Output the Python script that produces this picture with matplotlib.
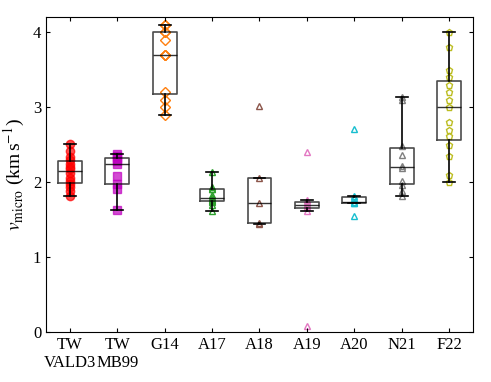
import numpy as np
import matplotlib.pyplot as plt

plt.rcParams['font.family'] = 'Liberation Serif'
plt.rcParams['mathtext.fontset'] = 'stix'

labels = ['TW\nVALD3', 'TW\nMB99', 'G14', 'A17', 'A18', 'A19', 'A20', 'N21', 'F22']

tw_vald3 = [1.82, 1.88, 1.93, 1.98, 2.02, 2.06, 2.12, 2.18, 2.20, 2.24, 2.29, 2.33, 2.42, 2.51]
tw_mb99 = [1.63, 1.91, 1.98, 2.08, 2.24, 2.28, 2.32, 2.35, 2.38]
g14 = [2.9, 3.0, 3.1, 3.2, 3.7, 3.7, 3.7, 3.9, 4.0, 4.0, 4.1, 4.1]
a17 = [1.62, 1.70, 1.73, 1.75, 1.76, 1.78, 1.80, 1.83, 1.91, 1.91, 1.93, 2.14]
a18 = [1.44, 1.46, 1.72, 2.05, 3.02]
a19 = [0.08, 1.62, 1.67, 1.68, 1.71, 1.73, 1.76, 2.40]
a20 = [1.55, 1.72, 1.72, 1.73, 1.79, 1.81, 2.71]
n21 = [1.82, 1.88, 1.96, 2.01, 2.19, 2.21, 2.36, 2.48, 3.10, 3.13]
f22 = [4.0, 3.8, 3.5, 3.4, 3.3, 3.2, 3.1, 3.0, 2.8, 2.7, 2.62, 2.5, 2.35, 2.1, 2.0]

data = [tw_vald3, tw_mb99, g14, a17, a18, a19, a20, n21, f22]

# marker, colour, filled
styles = [('o', 'red', True), ('s', 'm', True), ('D', 'tab:orange', False),
          ('^', 'tab:green', False), ('^', 'tab:brown', False), ('^', 'tab:pink', False),
          ('^', 'tab:cyan', False), ('^', 'tab:gray', False), ('p', 'tab:olive', False)]

fig, ax = plt.subplots(figsize=(4.91, 3.82), dpi=100)
fig.subplots_adjust(left=0.094, right=0.963, top=0.955, bottom=0.131)

for i, (vals, (m, c, filled)) in enumerate(zip(data, styles)):
    x = np.full(len(vals), i)
    if filled:
        ax.plot(x, vals, m, color=c, ms=6, alpha=0.7, mec=c, zorder=1)
    else:
        ax.plot(x, vals, m, mfc='none', mec=c, ms=5, mew=1, zorder=1)

ax.boxplot(data, positions=range(len(data)), widths=0.5, showfliers=False,
           boxprops=dict(color='k', alpha=0.7, lw=1.2),
           medianprops=dict(color='k', alpha=0.8, lw=1),
           whiskerprops=dict(color='k', lw=1.2),
           capprops=dict(color='k', lw=1.2), zorder=2)

ax.set_xticks(range(len(labels)))
ax.set_xticklabels(labels, fontsize=12)
ax.set_xlim(-0.5, 8.5)
ax.set_ylim(0, 4.2)
ax.set_yticks([0, 1, 2, 3, 4])
ax.tick_params(axis='y', labelsize=12)
ax.tick_params(direction='in', top=True, right=True, length=3)
ax.set_ylabel(r'$v_{\rm micro}$ (km$\,$s$^{-1}$)', fontsize=14)

plt.savefig('out.png', dpi=100)
